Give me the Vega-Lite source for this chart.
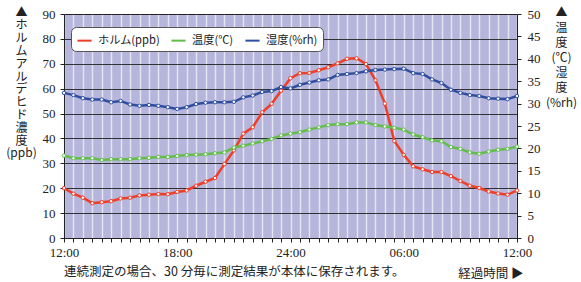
{
  "$schema": "https://vega.github.io/schema/vega-lite/v6.json",
  "width": 453,
  "height": 224,
  "autosize": "none",
  "padding": {"left": 64, "top": 14, "right": 64, "bottom": 44},
  "background": "white",
  "view": {"fill": "#b6b5dc", "stroke": "#222222", "strokeWidth": 1},
  "title": {
    "text": "連続測定の場合、30 分毎に測定結果が本体に保存されます。",
    "orient": "bottom",
    "anchor": "start",
    "frame": "group",
    "baseline": "middle",
    "offset": -8,
    "font": "Noto Sans CJK JP",
    "fontSize": 12.5,
    "fontWeight": "normal",
    "color": "#222222"
  },
  "data": {
    "values": [
      {"h": 0, "ppb": 20.0, "temp": 18.4, "hum": 32.4},
      {"h": 0.5, "ppb": 17.8, "temp": 17.8, "hum": 31.9},
      {"h": 1, "ppb": 16.2, "temp": 17.8, "hum": 31.2},
      {"h": 1.5, "ppb": 14.0, "temp": 17.8, "hum": 30.9},
      {"h": 2, "ppb": 14.4, "temp": 17.4, "hum": 30.9},
      {"h": 2.5, "ppb": 14.8, "temp": 17.6, "hum": 30.3},
      {"h": 3, "ppb": 15.9, "temp": 17.6, "hum": 30.6},
      {"h": 3.5, "ppb": 16.2, "temp": 17.6, "hum": 29.8},
      {"h": 4, "ppb": 17.1, "temp": 17.8, "hum": 29.5},
      {"h": 4.5, "ppb": 17.4, "temp": 17.9, "hum": 29.7},
      {"h": 5, "ppb": 17.7, "temp": 18.1, "hum": 29.5},
      {"h": 5.5, "ppb": 17.6, "temp": 18.1, "hum": 29.2},
      {"h": 6, "ppb": 18.5, "temp": 18.3, "hum": 28.8},
      {"h": 6.5, "ppb": 19.1, "temp": 18.5, "hum": 29.2},
      {"h": 7, "ppb": 21.0, "temp": 18.6, "hum": 29.9},
      {"h": 7.5, "ppb": 22.6, "temp": 18.7, "hum": 30.2},
      {"h": 8, "ppb": 24.1, "temp": 18.9, "hum": 30.3},
      {"h": 8.5, "ppb": 29.7, "temp": 19.1, "hum": 30.3},
      {"h": 9, "ppb": 35.2, "temp": 20.2, "hum": 30.4},
      {"h": 9.5, "ppb": 41.9, "temp": 20.6, "hum": 31.4},
      {"h": 10, "ppb": 44.5, "temp": 21.1, "hum": 31.8},
      {"h": 10.5, "ppb": 50.5, "temp": 21.6, "hum": 32.6},
      {"h": 11, "ppb": 53.9, "temp": 22.1, "hum": 32.8},
      {"h": 11.5, "ppb": 59.2, "temp": 22.9, "hum": 33.7},
      {"h": 12, "ppb": 64.2, "temp": 23.3, "hum": 33.4},
      {"h": 12.5, "ppb": 66.2, "temp": 23.6, "hum": 34.2},
      {"h": 13, "ppb": 66.3, "temp": 24.2, "hum": 34.7},
      {"h": 13.5, "ppb": 67.4, "temp": 24.7, "hum": 35.2},
      {"h": 14, "ppb": 68.6, "temp": 25.2, "hum": 35.4},
      {"h": 14.5, "ppb": 70.2, "temp": 25.4, "hum": 36.4},
      {"h": 15, "ppb": 72.0, "temp": 25.4, "hum": 36.6},
      {"h": 15.5, "ppb": 72.2, "temp": 25.8, "hum": 36.8},
      {"h": 16, "ppb": 69.9, "temp": 25.8, "hum": 37.2},
      {"h": 16.5, "ppb": 63.4, "temp": 25.2, "hum": 37.5},
      {"h": 17, "ppb": 54.0, "temp": 24.9, "hum": 37.6},
      {"h": 17.5, "ppb": 39.0, "temp": 24.6, "hum": 37.7},
      {"h": 18, "ppb": 33.4, "temp": 24.2, "hum": 37.8},
      {"h": 18.5, "ppb": 28.8, "temp": 23.1, "hum": 36.8},
      {"h": 19, "ppb": 27.6, "temp": 22.5, "hum": 36.6},
      {"h": 19.5, "ppb": 26.5, "temp": 21.8, "hum": 35.4},
      {"h": 20, "ppb": 26.5, "temp": 21.6, "hum": 34.6},
      {"h": 20.5, "ppb": 24.9, "temp": 20.3, "hum": 33.1},
      {"h": 21, "ppb": 22.9, "temp": 19.9, "hum": 32.4},
      {"h": 21.5, "ppb": 21.0, "temp": 19.1, "hum": 31.9},
      {"h": 22, "ppb": 20.1, "temp": 18.8, "hum": 31.7},
      {"h": 22.5, "ppb": 18.7, "temp": 19.3, "hum": 31.2},
      {"h": 23, "ppb": 17.9, "temp": 19.7, "hum": 31.1},
      {"h": 23.5, "ppb": 17.4, "temp": 19.9, "hum": 31.0},
      {"h": 24, "ppb": 19.1, "temp": 20.4, "hum": 31.7}
    ]
  },
  "encoding": {
    "x": {
      "field": "h",
      "type": "quantitative",
      "scale": {"domain": [0, 24], "nice": false, "zero": false},
      "axis": {
        "values": [0,0.5,1,1.5,2,2.5,3,3.5,4,4.5,5,5.5,6,6.5,7,7.5,8,8.5,9,9.5,10,10.5,11,11.5,12,12.5,13,13.5,14,14.5,15,15.5,16,16.5,17,17.5,18,18.5,19,19.5,20,20.5,21,21.5,22,22.5,23,23.5,24],
        "labelExpr": "datum.value == 0 || datum.value == 24 ? '12:00' : datum.value == 6 ? '18:00' : datum.value == 12 ? '24:00' : datum.value == 18 ? '06:00' : ''",
        "labelFont": "Liberation Serif",
        "labelFontSize": 13,
        "labelColor": "#222222",
        "labelPadding": 4,
        "labelOverlap": false,
        "labelFlush": false,
        "domainColor": "#222222",
        "tickColor": "#222222",
        "tickSize": 4,
        "grid": true,
        "gridColor": "#ececf6",
        "gridWidth": 1.5,
        "gridOpacity": 0.85,
        "title": "経過時間 ▶",
        "titleFont": "Noto Sans CJK JP",
        "titleFontSize": 12.5,
        "titleFontWeight": "normal",
        "titleColor": "#222222",
        "titleAlign": "right",
        "titleAnchor": null,
        "titleX": 459,
        "titleY": 35,
        "titleBaseline": "middle"
      }
    }
  },
  "layer": [
    {
      "mark": {
        "type": "line",
        "strokeWidth": 2.5,
        "point": {"filled": false, "fill": "white", "size": 12, "strokeWidth": 1}
      },
      "encoding": {
        "y": {
          "field": "ppb",
          "type": "quantitative",
          "scale": {"domain": [0, 90], "nice": false},
          "axis": {
            "orient": "left",
            "values": [0,10,20,30,40,50,60,70,80,90],
            "labelFont": "Liberation Serif",
            "labelFontSize": 13,
            "labelColor": "#222222",
            "labelPadding": 5,
            "domainColor": "#222222",
            "tickColor": "#222222",
            "tickSize": 4,
            "grid": true,
            "gridColor": "#222222",
            "gridWidth": 1,
            "gridOpacity": 0.9,
            "title": ["▲","ホ","ル","ム","ア","ル","デ","ヒ","ド","濃","度","(ppb)"],
            "titleFont": "Noto Sans CJK JP",
            "titleFontSize": 12,
            "titleFontWeight": "normal",
            "titleColor": "#222222",
            "titleAngle": 0,
            "titleAlign": "center",
            "titleBaseline": "top",
            "titleLineHeight": 12.8,
            "titleX": -43,
            "titleY": -7
          }
        },
        "color": {"datum": "ホルム(ppb)"}
      }
    },
    {
      "encoding": {
        "y": {
          "type": "quantitative",
          "scale": {"domain": [0, 50], "nice": false},
          "axis": {
            "orient": "right",
            "values": [0,5,10,15,20,25,30,35,40,45,50],
            "labelFont": "Liberation Serif",
            "labelFontSize": 13,
            "labelColor": "#222222",
            "labelPadding": 6,
            "domainColor": "#222222",
            "tickColor": "#222222",
            "tickSize": 4,
            "grid": false,
            "title": ["▲","温","度","(℃)","湿","度","(%rh)"],
            "titleFont": "Noto Sans CJK JP",
            "titleFontSize": 12,
            "titleFontWeight": "normal",
            "titleColor": "#222222",
            "titleAngle": 0,
            "titleAlign": "center",
            "titleBaseline": "top",
            "titleLineHeight": 15,
            "titleX": 44,
            "titleY": -7
          }
        }
      },
      "layer": [
        {
          "mark": {
            "type": "line",
            "strokeWidth": 2.5,
            "point": {"filled": false, "fill": "white", "size": 12, "strokeWidth": 1}
          },
          "encoding": {
            "y": {"field": "temp"},
            "color": {"datum": "温度(℃)"}
          }
        },
        {
          "mark": {
            "type": "line",
            "strokeWidth": 2.5,
            "point": {"filled": false, "fill": "white", "size": 12, "strokeWidth": 1}
          },
          "encoding": {
            "y": {"field": "hum"},
            "color": {"datum": "湿度(%rh)"}
          }
        }
      ]
    }
  ],
  "resolve": {"scale": {"y": "independent"}},
  "config": {
    "range": {"category": ["#ee3e27", "#62bd4a", "#2f4ea2"]},
    "legend": {
      "orient": "none",
      "legendX": 7,
      "legendY": 13,
      "direction": "horizontal",
      "title": null,
      "fillColor": "white",
      "strokeColor": "#555555",
      "cornerRadius": 5,
      "padding": 5,
      "symbolType": "stroke",
      "symbolStrokeWidth": 2,
      "symbolSize": 200,
      "labelFont": "Noto Sans CJK JP",
      "labelFontSize": 11.2,
      "labelColor": "#222222",
      "labelOffset": 5,
      "columnPadding": 7
    }
  }
}
